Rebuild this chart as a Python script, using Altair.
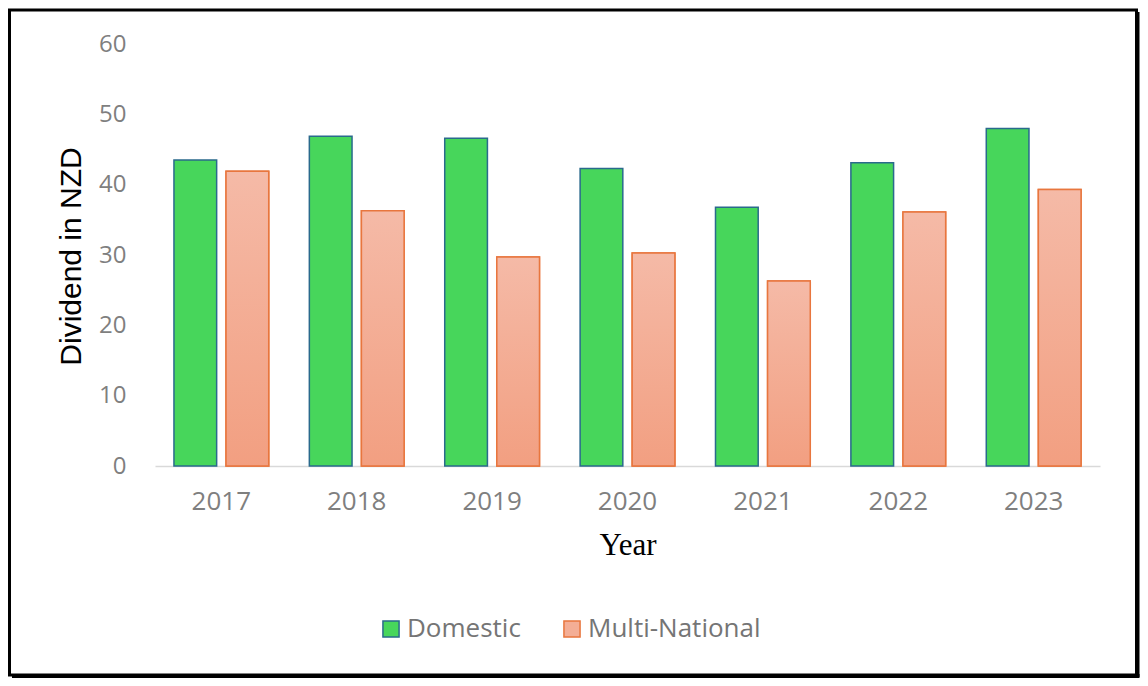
import altair as alt
import pandas as pd

years = ["2017", "2018", "2019", "2020", "2021", "2022", "2023"]
domestic = [43.5, 46.9, 46.6, 42.3, 36.8, 43.1, 48.0]
multinational = [41.9, 36.3, 29.7, 30.3, 26.3, 36.1, 39.3]
series = ["Domestic", "Multi-National"]

rows = []
for i, y in enumerate(years):
    rows.append({"Year": y, "Series": series[0], "Value": domestic[i]})
    rows.append({"Year": y, "Series": series[1], "Value": multinational[i]})
df = pd.DataFrame(rows)

FONT = "Open Sans"
GRAY = "#7F7F7F"

x_enc = alt.X("Year:N", sort=years,
              scale=alt.Scale(paddingInner=0.3, paddingOuter=0.14),
              axis=alt.Axis(title="Year", labelAngle=0, labelFontSize=26, labelColor=GRAY,
                            labelFont=FONT, labelPadding=22, ticks=False, tickSize=0,
                            domainColor="#D9D9D9", domainWidth=1.5,
                            titleFont="Liberation Serif", titleFontSize=31,
                            titleFontWeight="normal", titleColor="black", titlePadding=16))
xoff_enc = alt.XOffset("Series:N", scale=alt.Scale(domain=series, paddingInner=0.18))
y_enc = alt.Y("Value:Q", scale=alt.Scale(domain=[0, 60]),
              axis=alt.Axis(title="Dividend in NZD", values=[0, 10, 20, 30, 40, 50, 60],
                            grid=False, domain=False, ticks=False, tickSize=0,
                            labelFontSize=24, labelColor=GRAY, labelFont=FONT, labelPadding=29,
                            titleFont="Liberation Sans", titleFontSize=30, titleFontWeight="normal",
                            titleColor="black", titleX=-84, titleY=212, titleAngle=270,
                            titleAlign="center", titleBaseline="middle"))

legend = alt.Legend(title=None, orient="none", legendX=223, legendY=572, direction="horizontal",
                    symbolType="square", symbolSize=260, symbolStrokeWidth=1.5,
                    labelFontSize=26, labelColor="#757575", labelFont=FONT, labelLimit=400,
                    labelOffset=3, columnPadding=38)

base = alt.Chart(df).mark_bar(strokeWidth=1.5).encode(
    x=x_enc,
    xOffset=xoff_enc,
    y=y_enc,
    fill=alt.Fill("Series:N", scale=alt.Scale(domain=series, range=["#47D65B", "#F4AE96"]), legend=legend),
    stroke=alt.Stroke("Series:N", scale=alt.Scale(domain=series, range=["#2A6A8C", "#E8763E"]), legend=legend),
)

grad = alt.Gradient(gradient="linear", x1=0, y1=0, x2=0, y2=1,
                    stops=[alt.GradientStop(color="#F5BAA7", offset=0),
                           alt.GradientStop(color="#F29F81", offset=1)])

mn = alt.Chart(df).transform_filter(alt.datum.Series == "Multi-National").mark_bar(
    fill=grad, stroke="#E8763E", strokeWidth=1.5
).encode(x=x_enc, xOffset=xoff_enc, y=y_enc)

frame_df = pd.DataFrame({"a": [0]})
frame = alt.Chart(frame_df).mark_rect(fill="transparent", stroke="black", strokeWidth=3).encode(
    x=alt.value(-145.5), x2=alt.value(981.5), y=alt.value(-34), y2=alt.value(631))
right_edge = alt.Chart(frame_df).mark_rule(stroke="black", strokeWidth=4).encode(
    x=alt.value(982.5), y=alt.value(-32), y2=alt.value(633))
bottom_edge = alt.Chart(frame_df).mark_rule(stroke="black", strokeWidth=4).encode(
    y=alt.value(632), x=alt.value(-143), x2=alt.value(984.5))

chart = alt.layer(base, mn, frame, right_edge, bottom_edge).properties(
    width=945, height=422,
    autosize=alt.AutoSizeParams(type="none"),
    padding={"left": 147, "top": 36, "right": 40, "bottom": 212},
    background="white",
).configure_view(stroke=None)

chart.save("out.html", embed_options={"renderer": "svg", "actions": False})
